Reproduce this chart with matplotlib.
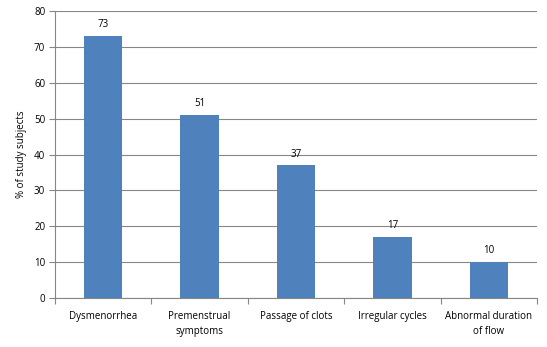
import numpy as np
import matplotlib.pyplot as plt

categories = ["Dysmenorrhea", "Premenstrual\nsymptoms", "Passage of clots",
              "Irregular cycles", "Abnormal duration\nof flow"]
percent = [73, 51, 37, 17, 10]
yticks = [0, 10, 20, 30, 40, 50, 60, 70, 80]

plt.rcParams['font.family'] = ['Open Sans', 'DejaVu Sans']
plt.rcParams['font.size'] = 7

fig = plt.figure(figsize=(5.47, 3.47), dpi=100)
ax = fig.add_axes([0.1005, 0.1412, 0.8812, 0.8271])

grey = '#868686'
x = np.arange(len(categories))
bars = ax.bar(x, percent, width=0.4, color='#4F81BD', zorder=3)
for b, v in zip(bars, percent):
    ax.text(b.get_x() + b.get_width() / 2, v + 1.6, str(v),
            ha='center', va='bottom', fontsize=7)

ax.set_xlim(-0.5, len(categories) - 0.5)
ax.set_ylim(0, 80)
ax.set_yticks(yticks)
ax.yaxis.grid(True, color=grey, linewidth=0.8, zorder=0)

# category labels centred, tick marks on the boundaries
ax.set_xticks(x)
ax.set_xticklabels(categories, linespacing=1.6)
ax.tick_params(axis='x', length=0, pad=9)
ax.set_xticks(np.arange(-0.5, len(categories)), minor=True)
ax.tick_params(axis='x', which='minor', length=4, color=grey, width=0.8)
ax.tick_params(axis='y', length=4, color=grey, width=0.8, pad=3)

for side in ['top', 'right']:
    ax.spines[side].set_visible(False)
for side in ['left', 'bottom']:
    ax.spines[side].set_color(grey)
    ax.spines[side].set_linewidth(0.8)

ax.set_ylabel('% of study subjects', fontsize=7, labelpad=5)

fig.savefig('out.png', dpi=100)
